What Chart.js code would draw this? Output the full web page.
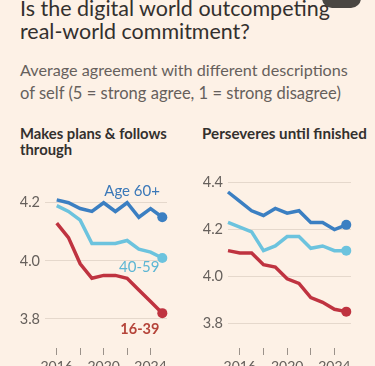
<!DOCTYPE html>
<html><head><meta charset="utf-8">
<script src="https://cdn.jsdelivr.net/npm/chart.js@4"></script>
<style>
html,body{margin:0;padding:0;background:#fdf1e6;width:375px;height:366px;overflow:hidden;font-family:Lato,"Noto Sans",sans-serif;position:relative;}
.t{position:absolute;white-space:nowrap;line-height:1;}
#btn{position:absolute;left:322px;top:-12px;width:39px;height:20px;border-radius:10px;background:#4a4642;z-index:5;}
canvas{position:absolute;}
</style></head><body>
<div class="t" data-w="310" style="left:20px;top:-2px;font-size:22px;color:#33302e">Is the digital world outcompeting</div>
<div class="t" data-w="230" style="left:20px;top:21px;font-size:22px;color:#33302e">real-world commitment?</div>
<div class="t" data-w="328" style="left:20px;top:62px;font-size:16px;color:#66605c">Average agreement with different descriptions</div>
<div class="t" data-w="321" style="left:20px;top:85px;font-size:16px;color:#66605c">of self (5 = strong agree, 1 = strong disagree)</div>
<div class="t" data-w="147" style="left:20px;top:126px;font-size:15px;font-weight:700;color:#33302e">Makes plans &amp; follows</div>
<div class="t" style="left:20px;top:142px;font-size:15px;font-weight:700;color:#33302e" id="thr">through</div>
<div class="t" data-w="165" style="left:202px;top:126px;font-size:15px;font-weight:700;color:#33302e">Perseveres until finished</div>
<div id="btn"></div>
<canvas id="cv1" width="187" height="206" style="left:0;top:160px;width:187px;height:206px"></canvas>
<canvas id="cv2" width="188" height="206" style="left:187px;top:160px;width:188px;height:206px"></canvas>
<script>
// ---- data ----
const yearsLeft = [2016, 2017, 2018, 2019, 2020, 2021, 2022, 2023, 2024, 2025];
const plansAge60 = [4.21, 4.20, 4.18, 4.17, 4.20, 4.17, 4.20, 4.15, 4.18, 4.15];
const plansAge40 = [4.19, 4.17, 4.14, 4.06, 4.06, 4.06, 4.07, 4.04, 4.03, 4.01];
const plansAge16 = [4.13, 4.08, 3.99, 3.94, 3.95, 3.95, 3.94, 3.90, 3.86, 3.82];

const yearsRight = [2015, 2016, 2017, 2018, 2019, 2020, 2021, 2022, 2023, 2024, 2025];
const persAge60 = [4.36, 4.32, 4.28, 4.26, 4.29, 4.27, 4.28, 4.23, 4.23, 4.20, 4.22];
const persAge40 = [4.23, 4.21, 4.19, 4.11, 4.13, 4.17, 4.17, 4.12, 4.13, 4.11, 4.11];
const persAge16 = [4.11, 4.10, 4.10, 4.05, 4.04, 3.99, 3.97, 3.91, 3.89, 3.86, 3.85];

const xTickYears = [2016, 2018, 2020, 2022, 2024];
const xTickLabels = ['2016', '', '2020', '', '2024'];
const plansYTicks = [3.8, 4.0, 4.2];
const persYTicks = [3.8, 4.0, 4.2, 4.4];
const seriesNames = ['Age 60+', '40-59', '16-39'];

// ---- fit header text widths ----
document.querySelectorAll('.t[data-w]').forEach(el => {
  const target = parseFloat(el.dataset.w);
  const f = parseFloat(el.style.fontSize);
  const w = el.getBoundingClientRect().width;
  el.style.fontSize = (f * target / w) + 'px';
});
(function(){
  const a = document.querySelector('.t[data-w="147"]');
  document.getElementById('thr').style.fontSize = a.style.fontSize;
})();

// ---- chart ----
const C60 = '#3b7fc2', C40 = '#6cc3de', C16 = '#bf3340';
Chart.defaults.font.family = 'Lato, "Noto Sans", sans-serif';
Chart.defaults.animation = false;

const lineLabels = {
  id: 'lineLabels',
  afterDatasetsDraw(chart, args, opts) {
    if (!opts.items) return;
    const {ctx, scales: {x, y}} = chart;
    ctx.save();
    opts.items.forEach(it => {
      ctx.font = it.font;
      ctx.fillStyle = it.color;
      ctx.textAlign = 'right';
      ctx.textBaseline = 'middle';
      ctx.fillText(it.text, x.getPixelForValue(it.x), y.getPixelForValue(it.y));
    });
    ctx.restore();
  }
};

function ds(label, xs, ys, color) {
  return {
    label,
    data: xs.map((x, i) => ({x, y: ys[i]})),
    borderColor: color,
    backgroundColor: color,
    borderWidth: 3.5,
    tension: 0,
    pointRadius: ys.map((v, i) => i === ys.length - 1 ? 5 : 0),
    pointHoverRadius: 0,
    pointBorderWidth: 0,
    pointBackgroundColor: color,
    borderJoinStyle: 'miter',
    clip: false
  };
}

function makeChart(id, xs, s60, s40, s16, yTicks, yMin, yMax, yWidth, padRight, items) {
  return new Chart(document.getElementById(id), {
    type: 'line',
    data: {
      datasets: [
        ds(seriesNames[2], xs, s16, C16),
        ds(seriesNames[1], xs, s40, C40),
        ds(seriesNames[0], xs, s60, C60)
      ]
    },
    plugins: [lineLabels],
    options: {
      responsive: false,
      events: [],
      layout: {padding: {top: 8, right: padRight, left: 0, bottom: 0}},
      plugins: {legend: {display: false}, tooltip: {enabled: false}, lineLabels: {items}},
      scales: {
        x: {
          type: 'linear', min: 2015, max: 2025.4,
          afterBuildTicks: s => { s.ticks = xTickYears.map(v => ({value: v})); },
          afterFit: s => { s.height = 18; },
          ticks: {
            autoSkip: false, maxRotation: 0, padding: 3,
            color: '#66605c', font: {size: 14},
            callback: (v, i) => xTickLabels[i]
          },
          grid: {drawOnChartArea: false, drawTicks: true, tickLength: 7, color: '#9b928a', lineWidth: 1},
          border: {display: false}
        },
        y: {
          min: yMin, max: yMax,
          afterBuildTicks: s => { s.ticks = yTicks.map(v => ({value: v})); },
          afterFit: s => { s.width = yWidth; },
          ticks: {padding: 5, color: '#66605c', font: {size: 14.5}, callback: v => v.toFixed(1)},
          grid: {drawTicks: false, color: '#e5d8cc', lineWidth: 1},
          border: {display: false}
        }
      }
    }
  });
}

makeChart('cv1', yearsLeft, plansAge60, plansAge40, plansAge16, plansYTicks, 3.7, 4.3, 45, 20, [
  {text: seriesNames[0], x: 2024.8, y: 4.241, color: '#3b78b8', font: '400 15px Lato, "Noto Sans", sans-serif'},
  {text: seriesNames[1], x: 2024.75, y: 3.98, color: '#5db6d4', font: '400 15px Lato, "Noto Sans", sans-serif'},
  {text: seriesNames[2], x: 2024.75, y: 3.763, color: '#b5443a', font: '700 14.5px Lato, "Noto Sans", sans-serif'}
]);
makeChart('cv2', yearsRight, persAge60, persAge40, persAge16, persYTicks, 3.695, 4.438, 41, 24, []);
</script>
</body></html>
